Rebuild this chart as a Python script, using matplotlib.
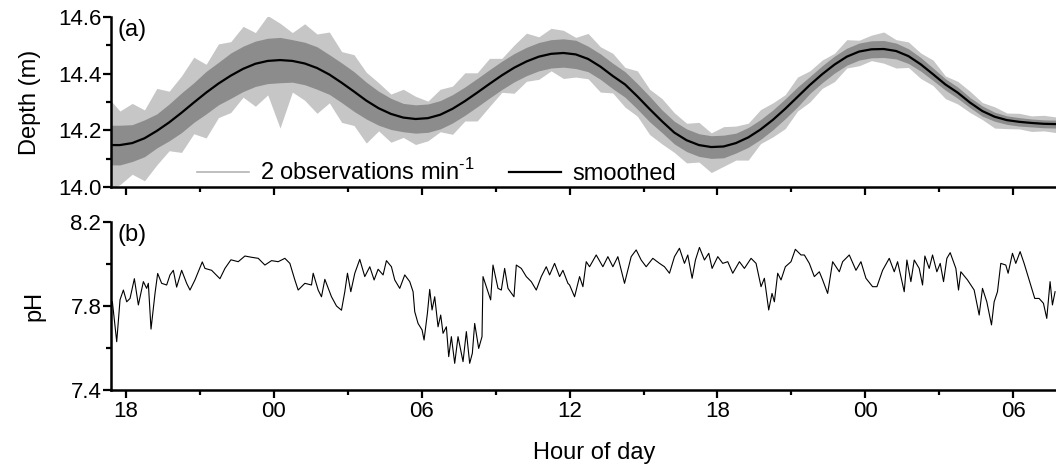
import numpy as np
import matplotlib
matplotlib.use("Agg")
import matplotlib.pyplot as plt
from matplotlib.ticker import FixedLocator

plt.rcParams['font.family'] = ['Liberation Sans', 'DejaVu Sans']
plt.rcParams['mathtext.fontset'] = 'custom'
plt.rcParams['mathtext.rm'] = 'Liberation Sans'

# hours counted from 18:00 on the first day
hour_ticks = [0, 6, 12, 18, 24, 30, 36]
hour_labels = ["18", "00", "06", "12", "18", "00", "06"]
hour_minor = [3, 9, 15, 21, 27, 33]

# depth record, half-hour grid
depth_hours = np.arange(-0.75, 37.76, 0.5)
depth_smooth = [14.148, 14.148, 14.155, 14.172, 14.198, 14.228, 14.262, 14.298, 14.333, 14.365,
                14.393, 14.417, 14.435, 14.445, 14.448, 14.445, 14.436, 14.420, 14.397, 14.368,
                14.337, 14.305, 14.278, 14.258, 14.245, 14.240, 14.243, 14.255, 14.276, 14.303,
                14.333, 14.364, 14.394, 14.421, 14.443, 14.460, 14.470, 14.473, 14.468, 14.452,
                14.425, 14.392, 14.362, 14.320, 14.275, 14.232, 14.192, 14.165, 14.148, 14.141,
                14.143, 14.155, 14.175, 14.203, 14.237, 14.276, 14.318, 14.360, 14.398, 14.432,
                14.460, 14.478, 14.486, 14.487, 14.480, 14.462, 14.433, 14.398, 14.362, 14.333,
                14.298, 14.268, 14.248, 14.236, 14.230, 14.226, 14.223, 14.222]
# spread of the raw 2-per-minute readings around the smoothed curve
obs_up = [0.17, 0.12, 0.14, 0.10, 0.15, 0.11, 0.13, 0.16, 0.10, 0.14, 0.12, 0.15, 0.11, 0.16,
          0.13, 0.10, 0.14, 0.12, 0.15, 0.11, 0.13, 0.10,
          0.09, 0.07, 0.10, 0.08, 0.06, 0.09, 0.08, 0.10, 0.07, 0.09, 0.06, 0.08, 0.10, 0.07,
          0.09, 0.08, 0.06, 0.09, 0.07, 0.08, 0.06, 0.09, 0.07, 0.08,
          0.07, 0.06, 0.08, 0.05, 0.07, 0.06, 0.05, 0.07, 0.06, 0.05, 0.07, 0.05,
          0.05, 0.04, 0.06, 0.04, 0.05, 0.06, 0.04, 0.05, 0.04, 0.05, 0.03, 0.04,
          0.04, 0.03, 0.035, 0.025, 0.03, 0.025, 0.03, 0.025]
obs_dn = [0.16, 0.14, 0.11, 0.15, 0.12, 0.10, 0.14, 0.11, 0.16, 0.12, 0.13, 0.10, 0.15, 0.12,
          0.24, 0.11, 0.13, 0.16, 0.10, 0.14, 0.12, 0.15,
          0.08, 0.10, 0.07, 0.09, 0.08, 0.06, 0.09, 0.07, 0.10, 0.08, 0.06, 0.09, 0.07, 0.08,
          0.06, 0.09, 0.08, 0.07, 0.09, 0.06, 0.08, 0.07, 0.09, 0.08,
          0.07, 0.08, 0.06, 0.09, 0.07, 0.06, 0.08, 0.05, 0.06, 0.07, 0.05, 0.06,
          0.05, 0.06, 0.04, 0.05, 0.04, 0.05, 0.06, 0.04, 0.05, 0.04, 0.05, 0.04,
          0.035, 0.03, 0.04, 0.03, 0.025, 0.03, 0.025, 0.03]
obs_core = [0.07, 0.07, 0.065, 0.065, 0.06, 0.065, 0.07, 0.07, 0.075, 0.075, 0.08, 0.08, 0.08,
            0.08, 0.08, 0.075, 0.075, 0.075, 0.07, 0.07, 0.07, 0.065,
            0.06, 0.055, 0.05, 0.05, 0.05, 0.05, 0.05, 0.05, 0.05, 0.05, 0.05, 0.05, 0.05, 0.05,
            0.05, 0.05, 0.05, 0.045, 0.045, 0.045, 0.045, 0.045, 0.045, 0.04,
            0.04, 0.04, 0.04, 0.04, 0.04, 0.035, 0.035, 0.035, 0.035, 0.035, 0.035, 0.03,
            0.03, 0.03, 0.03, 0.03, 0.03, 0.03, 0.028, 0.026, 0.024, 0.022, 0.02, 0.02,
            0.018, 0.018, 0.016, 0.015, 0.015, 0.014, 0.014, 0.014]

# pH record
ph_hours = [-0.554, -0.378, -0.243, -0.108, 0.027, 0.162, 0.338, 0.5, 0.703, 0.838, 0.905, 1.014,
            1.176, 1.284, 1.446, 1.649, 1.784, 1.919, 2.054, 2.257, 2.46, 2.595, 2.797, 3.095,
            3.203, 3.473, 3.811, 4.014, 4.257, 4.554, 4.824, 5.095, 5.365, 5.635, 5.905, 6.176,
            6.446, 6.649, 6.851, 6.986, 7.257, 7.527, 7.595, 7.797, 7.932, 8.068, 8.338, 8.541,
            8.743, 8.878, 8.986, 9.122, 9.284, 9.486, 9.689, 9.892, 10.068, 10.23, 10.432,
            10.568, 10.77, 10.905, 11.108, 11.311, 11.514, 11.649, 11.716, 11.851, 12.014,
            12.095, 12.23, 12.324, 12.419, 12.527, 12.662, 12.77, 12.865, 13.0, 13.095, 13.203,
            13.338, 13.473, 13.676, 13.811, 13.946, 14.054, 14.149, 14.311, 14.446, 14.487,
            14.622, 14.797, 14.892, 15.095, 15.23, 15.365, 15.5, 15.743, 15.838, 16.041, 16.243,
            16.446, 16.649, 16.851, 17.054, 17.189, 17.392, 17.595, 17.73, 17.932, 18.0, 18.203,
            18.405, 18.541, 18.676, 18.811, 19.081, 19.351, 19.554, 19.757, 19.959, 20.23, 20.5,
            20.703, 20.905, 21.108, 21.378, 21.649, 21.851, 22.054, 22.257, 22.459, 22.662,
            22.797, 22.973, 23.108, 23.27, 23.473, 23.649, 23.784, 24.014, 24.216, 24.419,
            24.622, 24.892, 25.095, 25.365, 25.568, 25.77, 25.905, 26.081, 26.216, 26.311,
            26.446, 26.581, 26.757, 26.986, 27.162, 27.392, 27.527, 27.73, 27.932, 28.135,
            28.27, 28.473, 28.676, 28.946, 29.081, 29.351, 29.622, 29.824, 30.027, 30.297,
            30.473, 30.703, 30.973, 31.176, 31.311, 31.581, 31.689, 31.851, 31.986, 32.189,
            32.324, 32.419, 32.595, 32.73, 32.905, 33.041, 33.176, 33.311, 33.446, 33.676,
            33.784, 33.878, 34.149, 34.419, 34.622, 34.757, 34.932, 35.122, 35.23, 35.365, 35.5,
            35.703, 35.797, 35.973, 36.108, 36.284, 36.446, 36.649, 36.878, 37.054, 37.23,
            37.365, 37.5, 37.595, 37.703]
ph_values = [7.82, 7.63, 7.83, 7.876, 7.82, 7.836, 7.93, 7.805, 7.916, 7.884, 7.908, 7.69,
             7.86, 7.955, 7.908, 7.90, 7.948, 7.97, 7.89, 7.97, 7.908, 7.876, 7.924, 8.01,
             7.979, 7.97, 7.93, 7.979, 8.02, 8.011, 8.038, 8.032, 8.027, 7.995, 8.016, 8.011,
             8.027, 8.003, 7.924, 7.876, 7.908, 7.90, 7.956, 7.876, 7.844, 7.927, 7.844, 7.80,
             7.78, 7.868, 7.956, 7.868, 7.956, 8.022, 7.94, 7.987, 7.924, 7.975, 7.948,
             8.016, 7.987, 7.924, 7.884, 7.948, 7.916, 7.868, 7.773, 7.717, 7.686,
             7.638, 7.765, 7.879, 7.781, 7.844, 7.701, 7.757, 7.67, 7.701, 7.559, 7.654,
             7.527, 7.654, 7.535, 7.678, 7.527, 7.575, 7.717, 7.598, 7.654, 7.94,
             7.892, 7.829, 7.995, 7.884, 7.876, 7.979, 7.884, 7.844, 7.995, 7.979, 7.94,
             7.916, 7.876, 7.94, 7.987, 7.948, 8.003, 7.94, 7.97, 7.908, 7.90, 7.844,
             7.94, 7.892, 8.011, 7.987, 8.043, 7.987, 8.035, 7.987, 8.035, 7.908, 8.035,
             8.067, 8.019, 7.987, 8.027, 8.003, 7.987, 7.956, 8.035, 8.075, 8.003,
             8.043, 7.932, 8.019, 8.079, 8.019, 8.051, 7.979, 8.035, 8.003, 8.011,
             7.956, 8.011, 7.979, 8.027, 8.003, 7.892, 7.932, 7.781, 7.86, 7.82,
             7.956, 7.924, 7.987, 8.011, 8.07, 8.043, 8.043, 8.003, 7.94, 7.963,
             7.924, 7.86, 8.011, 7.963, 8.011, 8.043, 7.97, 8.011, 7.932, 7.892,
             7.892, 7.97, 8.027, 7.963, 8.011, 7.868, 8.019, 7.916, 8.019, 7.979,
             7.90, 8.038, 7.979, 8.043, 7.963, 8.003, 7.916, 8.027, 8.054, 7.979,
             7.876, 7.963, 7.924, 7.876, 7.757, 7.884, 7.82, 7.71, 7.82, 7.868, 8.003,
             7.995, 7.956, 8.051, 8.003, 8.059, 8.003, 7.924, 7.836, 7.836, 7.813,
             7.741, 7.916, 7.805, 7.868]

smooth = np.array(depth_smooth)
up = np.array(obs_up)
dn = np.array(obs_dn)
core = np.array(obs_core)

fig = plt.figure(figsize=(10.56, 4.68), dpi=100)
ax1 = fig.add_axes([111 / 1056, 1 - 187 / 468, 945 / 1056, 170 / 468])
ax2 = fig.add_axes([111 / 1056, 1 - 390 / 468, 945 / 1056, 168 / 468])

# (a) depth
ax1.fill_between(depth_hours, smooth - dn, smooth + up, color="#c6c6c6", lw=0)
ax1.fill_between(depth_hours, smooth - core, smooth + core, color="#8c8c8c", lw=0)
ax1.plot([], [], color="#b4b4b4", lw=1.2, label=r"2 observations min$^{\text{-1}}$")
ax1.plot(depth_hours, smooth, color="black", lw=1.6, label="smoothed")
ax1.set_ylim(14.0, 14.6)
ax1.yaxis.set_major_locator(FixedLocator([14.0, 14.2, 14.4, 14.6]))
ax1.yaxis.set_minor_locator(FixedLocator([14.1, 14.3, 14.5]))
ax1.set_ylabel("Depth (m)", fontsize=17)
ax1.yaxis.set_label_coords(-0.074, 0.5)
ax1.text(0.007, 0.99, "(a)", transform=ax1.transAxes, fontsize=17, va="top", ha="left")
ax1.legend(loc="center left", bbox_to_anchor=(0.091, 0.088), ncol=2, frameon=False,
           fontsize=17, handlelength=2.2, handletextpad=0.45, columnspacing=1.5,
           borderpad=0, borderaxespad=0)

# (b) pH
ax2.plot(ph_hours, ph_values, color="black", lw=0.8)
ax2.set_ylim(7.4, 8.2)
ax2.yaxis.set_major_locator(FixedLocator([7.4, 7.8, 8.2]))
ax2.yaxis.set_minor_locator(FixedLocator([7.6, 8.0]))
ax2.set_ylabel("pH", fontsize=17)
ax2.yaxis.set_label_coords(-0.069, 0.5)
ax2.text(0.007, 0.99, "(b)", transform=ax2.transAxes, fontsize=17, va="top", ha="left")

for ax in (ax1, ax2):
    ax.set_xlim(-0.61, 37.74)
    ax.xaxis.set_major_locator(FixedLocator(hour_ticks))
    ax.xaxis.set_minor_locator(FixedLocator(hour_minor))
    ax.spines["top"].set_visible(False)
    ax.spines["right"].set_visible(False)
    ax.spines["left"].set_linewidth(1.8)
    ax.spines["bottom"].set_linewidth(1.8)
    ax.tick_params(which="major", direction="out", length=6, width=1.6, labelsize=16, pad=2)
    ax.tick_params(which="minor", direction="out", length=3.5, width=1.6)
    ax.tick_params(axis="y", pad=1)

ax1.set_xticklabels([])
ax2.set_xticklabels(hour_labels)
fig.text(594 / 1056, 1 - 453 / 468, "Hour of day", fontsize=17, ha="center", va="center")

fig.savefig("out.png", dpi=100)
